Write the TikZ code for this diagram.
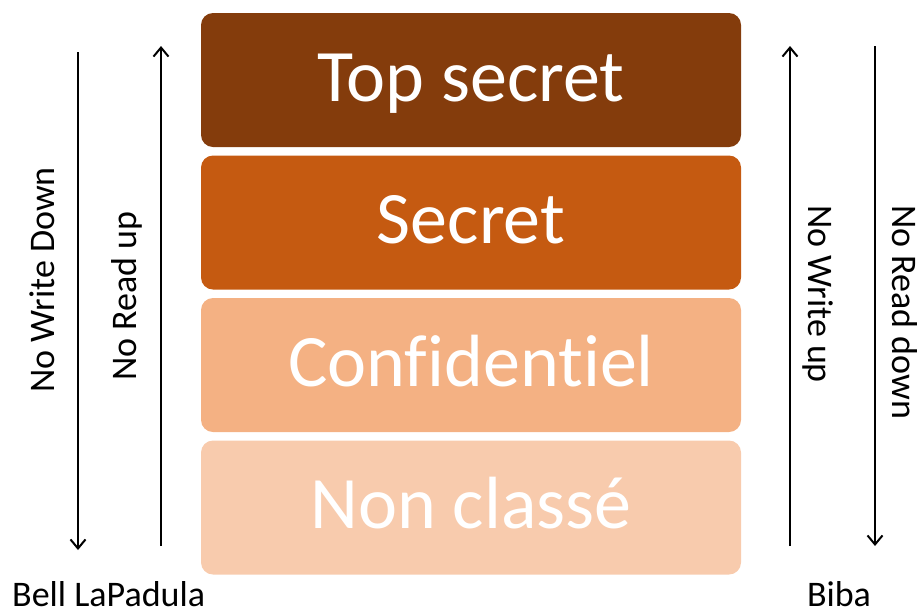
\documentclass[tikz,border=0pt]{standalone}
\usepackage{fontspec}
\setmainfont{Carlito}[Ligatures=NoCommon]
\usetikzlibrary{arrows.meta}
\definecolor{lvlA}{HTML}{843C0C}
\definecolor{lvlB}{HTML}{C55A11}
\definecolor{lvlC}{HTML}{F4B183}
\definecolor{lvlD}{HTML}{F8CBAD}
\begin{document}
\begin{tikzpicture}[x=1pt,y=-1pt,
  level/.style={draw=none, rounded corners=12pt, minimum width=540pt, minimum height=134pt,
    inner sep=0pt, text=white, text height=52pt, text depth=10pt,
    font=\fontsize{74}{80}\selectfont},
  side/.style={font=\fontsize{36}{40}\selectfont, inner sep=0pt},
  flow/.style={line width=2pt, -{Straight Barb[length=9pt,width=15pt,line width=2pt]}}]
\useasboundingbox (0,0) rectangle (923,614);
% security levels
\node[level, fill=lvlA] (top) at (471,80) {Top secret};
\node[level, fill=lvlB] (sec) at (471,222.5) {Secret};
\node[level, fill=lvlC] (conf) at (471,365) {Confidentiel};
\node[level, fill=lvlD] (nc) at (471,507.5) {Non classé};
% Bell LaPadula
\coordinate (wdA) at (78,52);
\coordinate (wdB) at (78,550);
\coordinate (ruA) at (161,546);
\coordinate (ruB) at (161,46);
\draw[flow] (wdA) -- (wdB);
\draw[flow] (ruA) -- (ruB);
\node[side, rotate=90] (wd) at (42,280) {No Write Down};
\node[side, rotate=90] (ru) at (127,296) {No Read up};
\node[side, anchor=base west] (blp) at (12,606) {Bell LaPadula};
% Biba
\coordinate (wuA) at (790,546);
\coordinate (wuB) at (790,46);
\coordinate (rdA) at (875,46);
\coordinate (rdB) at (875,546);
\draw[flow] (wuA) -- (wuB);
\draw[flow] (rdA) -- (rdB);
\node[side, rotate=-90] (wu) at (818,294) {No Write up};
\node[side, rotate=-90] (rd) at (905,312) {No Read down};
\node[side, anchor=base] (biba) at (839,606) {Biba};
\end{tikzpicture}
\end{document}
